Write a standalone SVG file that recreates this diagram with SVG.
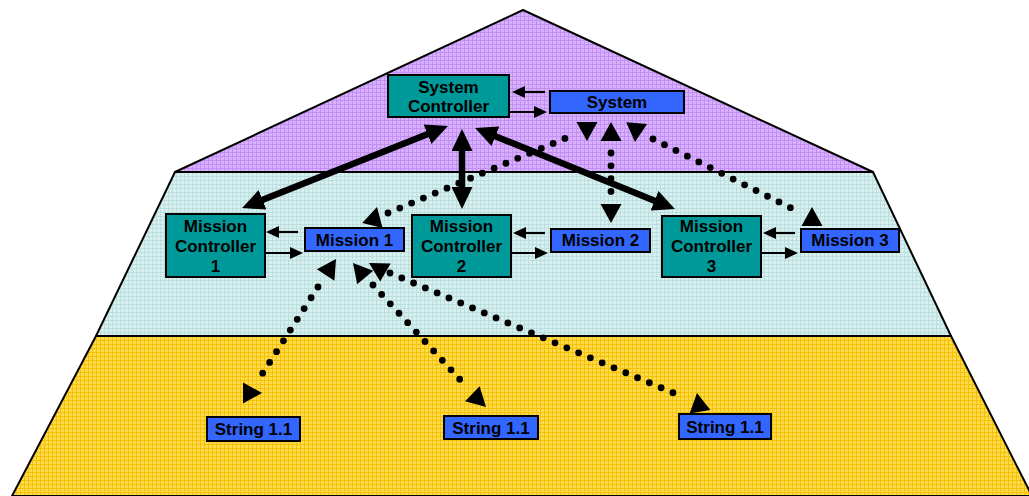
<svg xmlns="http://www.w3.org/2000/svg" width="1029" height="496" viewBox="0 0 1029 496">
<style>
.layer{stroke:#000;stroke-width:2;stroke-linejoin:round}
.ctl{fill:#009999;stroke:#000;stroke-width:2}
.blk{fill:#3366FF;stroke:#000;stroke-width:2}
text{font-family:"Liberation Sans",Arial,sans-serif;font-weight:bold;font-size:17px;fill:#000;text-anchor:middle}
.thin{stroke:#000;stroke-width:2.2;fill:none;marker-end:url(#ah)}
.thick{stroke:#000;stroke-width:6.5;fill:none;marker-start:url(#bh);marker-end:url(#bh)}
.dot{stroke:#000;stroke-width:6.8;fill:none;stroke-linecap:round;stroke-dasharray:0 12.8}
</style>
<defs>
<pattern id="gp" width="4" height="4" patternUnits="userSpaceOnUse"><rect width="4" height="4" fill="#D8B0FF"/><path d="M0,0.5H4M0.5,0V4" stroke="#C290F0" stroke-width="1"/></pattern>
<pattern id="gc" width="4" height="4" patternUnits="userSpaceOnUse"><rect width="4" height="4" fill="#D8EFEF"/><path d="M0,0.5H4M0.5,0V4" stroke="#BBDFDF" stroke-width="1"/></pattern>
<pattern id="gy" width="4" height="4" patternUnits="userSpaceOnUse"><rect width="4" height="4" fill="#FFDA50"/><path d="M0,0.5H4M0.5,0V4" stroke="#F4C200" stroke-width="1"/></pattern>
<marker id="ah" markerUnits="userSpaceOnUse" markerWidth="13" markerHeight="12" refX="10" refY="6" orient="auto"><path d="M0,0L13,6L0,12Z" fill="#000"/></marker>
<marker id="bh" markerUnits="userSpaceOnUse" markerWidth="22" markerHeight="21" refX="14" refY="10.5" orient="auto-start-reverse"><path d="M0,0L22,10.5L0,21Z" fill="#000"/></marker>
<path id="dh" d="M0,0L-19,-10.5L-19,10.5Z" fill="#000"/>
</defs>
<g id="pyramid">
<polygon class="layer" fill="url(#gy)" points="96,336 951,336 1032,496 12,496"/>
<polygon class="layer" fill="url(#gc)" points="175,172 873,172 951,336 96,336"/>
<polygon class="layer" fill="url(#gp)" points="523,10 873,172 175,172"/>
</g>
<g id="connectors">
<line class="thin" x1="545" y1="92" x2="515" y2="92"/>
<line class="thin" x1="509" y1="112" x2="544" y2="112"/>
<line class="thin" x1="298" y1="232" x2="269" y2="232"/>
<line class="thin" x1="265" y1="253" x2="300" y2="253"/>
<line class="thin" x1="545" y1="233" x2="516" y2="233"/>
<line class="thin" x1="511" y1="253" x2="545" y2="253"/>
<line class="thin" x1="795" y1="233" x2="766" y2="233"/>
<line class="thin" x1="761" y1="253" x2="795" y2="253"/>
<line class="thick" x1="440.5" y1="129" x2="249.5" y2="205"/>
<line class="thick" x1="462" y1="137" x2="462" y2="201"/>
<line class="thick" x1="482.5" y1="131" x2="667.5" y2="206"/>
<path class="dot" d="M388,213L573,135"/>
<path class="dot" d="M611,153L611,194"/>
<path class="dot" d="M653,139L797,211"/>
<path class="dot" d="M318,287L259,379"/>
<path class="dot" d="M373,285L465,385"/>
<path class="dot" d="M390,273L683,397"/>
<use href="#dh" transform="translate(377,207) rotate(-76)"/>
<use href="#dh" transform="translate(587,141) rotate(90)"/>
<use href="#dh" transform="translate(611,122) rotate(-90)"/>
<use href="#dh" transform="translate(611,223) rotate(90)"/>
<use href="#dh" transform="translate(635,142) rotate(95)"/>
<use href="#dh" transform="translate(812,207) rotate(-90)"/>
<use href="#dh" transform="translate(336,259) rotate(-57)"/>
<use href="#dh" transform="translate(262,393) rotate(0)"/>
<use href="#dh" transform="translate(353,263) rotate(-130)"/>
<use href="#dh" transform="translate(486,407) rotate(44)"/>
<use href="#dh" transform="translate(369,263) rotate(-150)"/>
<use href="#dh" transform="translate(697,393) rotate(-99)"/>
</g>
<g id="system-controller"><rect class="ctl" x="388" y="75" width="121" height="42"/><text x="448.5" y="93">System</text><text x="448.5" y="112">Controller</text></g>
<g id="system"><rect class="blk" x="550" y="91" width="134" height="22"/><text x="617" y="108">System</text></g>
<g id="mission-controller-1"><rect class="ctl" x="166" y="214" width="99" height="63"/><text x="215.5" y="232">Mission</text><text x="215.5" y="252">Controller</text><text x="215.5" y="272">1</text></g>
<g id="mission-1"><rect class="blk" x="305" y="228" width="99" height="23"/><text x="354.5" y="246">Mission 1</text></g>
<g id="mission-controller-2"><rect class="ctl" x="412" y="215" width="99" height="62"/><text x="461.5" y="232">Mission</text><text x="461.5" y="252">Controller</text><text x="461.5" y="272">2</text></g>
<g id="mission-2"><rect class="blk" x="551" y="229" width="99" height="23"/><text x="600.5" y="246">Mission 2</text></g>
<g id="mission-controller-3"><rect class="ctl" x="662" y="216" width="99" height="61"/><text x="711.5" y="232">Mission</text><text x="711.5" y="252">Controller</text><text x="711.5" y="272">3</text></g>
<g id="mission-3"><rect class="blk" x="801" y="229" width="98" height="23"/><text x="850" y="246">Mission 3</text></g>
<g id="string-1"><rect class="blk" x="207" y="417" width="93" height="24"/><text x="253.5" y="435">String 1.1</text></g>
<g id="string-2"><rect class="blk" x="444" y="416" width="94" height="23"/><text x="491" y="434">String 1.1</text></g>
<g id="string-3"><rect class="blk" x="679" y="414" width="92" height="25"/><text x="725" y="433">String 1.1</text></g>
</svg>
